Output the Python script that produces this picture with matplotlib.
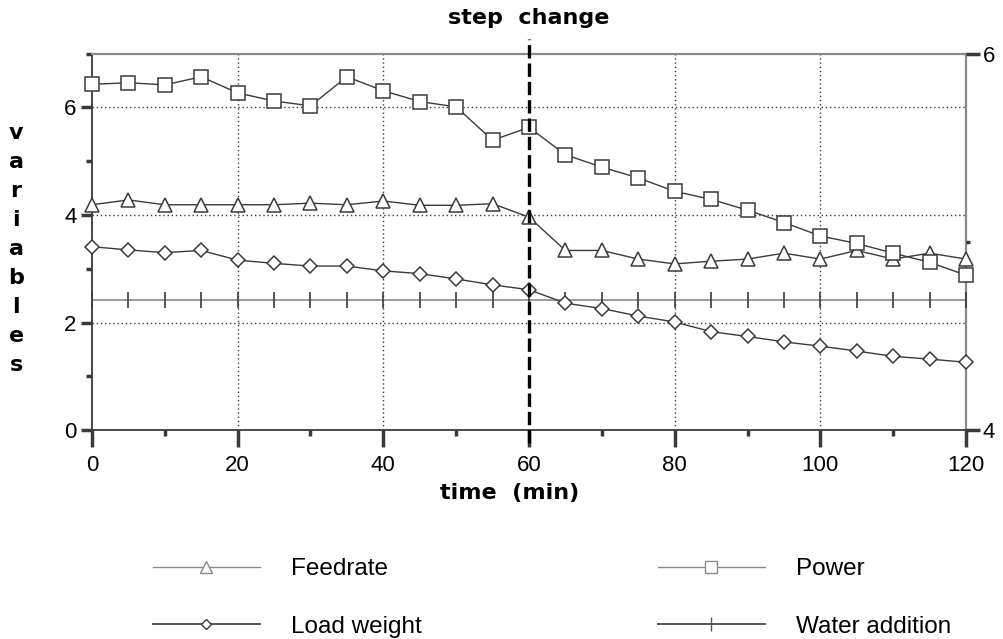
import matplotlib
matplotlib.use("Agg")
import matplotlib.pyplot as plt
from matplotlib.lines import Line2D
from matplotlib.ticker import MultipleLocator

plt.rcParams['font.family'] = ['Liberation Sans', 'DejaVu Sans']

# ============================================================================
# Du lieu doc tu hinh goc
# ============================================================================
time_min = [0, 5, 10, 15, 20, 25, 30, 35, 40, 45, 50, 55, 60,
            65, 70, 75, 80, 85, 90, 95, 100, 105, 110, 115, 120]
power = [6.43, 6.46, 6.42, 6.57, 6.27, 6.12, 6.03, 6.57, 6.31, 6.11, 6.01, 5.39, 5.63,
         5.12, 4.89, 4.69, 4.44, 4.29, 4.09, 3.86, 3.61, 3.47, 3.29, 3.12, 2.88]
feedrate = [4.19, 4.28, 4.19, 4.19, 4.19, 4.19, 4.22, 4.19, 4.26, 4.18, 4.18, 4.21, 3.96,
            3.34, 3.34, 3.18, 3.09, 3.14, 3.18, 3.29, 3.18, 3.34, 3.18, 3.29, 3.18]
load_weight = [3.41, 3.35, 3.30, 3.34, 3.16, 3.10, 3.05, 3.05, 2.96, 2.91, 2.81, 2.70, 2.61,
               2.36, 2.26, 2.12, 2.01, 1.83, 1.74, 1.64, 1.56, 1.47, 1.37, 1.32, 1.26]
water_addition = [2.42] * len(time_min)
step_time = 60

DARK = "#3a3a3a"
GREY = "#8a8a8a"
BOLD_FONT = "DejaVu Sans"

fig = plt.figure(figsize=(10.04, 6.39), dpi=100)
ax = fig.add_axes([0.0916, 0.327, 0.8706, 0.589])

# Cac duong du lieu
ax.plot(time_min, water_addition, color=GREY, lw=1.2, marker="|", ms=11,
        mew=1.2, mec=DARK, zorder=3, clip_on=False)
ax.plot(time_min, feedrate, color=DARK, lw=1.0, marker="^", ms=10,
        mfc="white", mec=DARK, mew=1.1, zorder=4, clip_on=False)
ax.plot(time_min, load_weight, color=DARK, lw=1.0, marker="D", ms=7.5,
        mfc="white", mec=DARK, mew=1.1, zorder=4, clip_on=False)
ax.plot(time_min, power, color=DARK, lw=1.0, marker="s", ms=10.5,
        mfc="white", mec=DARK, mew=1.1, zorder=4, clip_on=False)

# Duong bien doi buoc (step change)
ax.axvline(step_time, ymin=-0.035, ymax=1.04, color="black", lw=2.4,
           ls=(0, (4, 1.5)), clip_on=False, zorder=5)

ax.set_xlim(0, 120)
ax.set_ylim(0, 7)

# Luoi cham
for gx in [20, 40, 80, 100]:
    ax.axvline(gx, color=DARK, lw=1.0, ls=(0, (1, 2)), zorder=1)
for gy in [2, 4, 6]:
    ax.axhline(gy, color=DARK, lw=1.0, ls=(0, (1, 2)), zorder=1)

ax.xaxis.set_major_locator(MultipleLocator(20))
ax.xaxis.set_minor_locator(MultipleLocator(10))
ax.yaxis.set_major_locator(MultipleLocator(2))
ax.yaxis.set_minor_locator(MultipleLocator(1))
ax.tick_params(axis="x", which="major", direction="out", length=12, width=2.5,
               labelsize=16, pad=6, color=DARK)
ax.tick_params(axis="x", which="minor", direction="out", length=4, width=2.5, color=DARK)
ax.tick_params(axis="y", which="major", direction="out", length=8, width=2.5,
               labelsize=16, pad=3, color=DARK)
ax.tick_params(axis="y", which="minor", direction="out", length=4, width=2.5, color=DARK)

for side in ["left", "bottom"]:
    ax.spines[side].set_color(DARK)
    ax.spines[side].set_linewidth(1.3)
for side in ["top", "right"]:
    ax.spines[side].set_color(GREY)
    ax.spines[side].set_linewidth(1.6)

# Truc phai 4 - 6
ax2 = ax.twinx()
ax2.set_ylim(4, 6)
ax2.set_yticks([4, 6])
ax2.set_yticks([5], minor=True)
ax2.tick_params(axis="y", which="major", direction="out", length=10, width=2.5,
                labelsize=16, pad=2, color=DARK)
ax2.tick_params(axis="y", which="minor", direction="out", length=3, width=2.5, color=DARK)
for side in ["top", "right", "left", "bottom"]:
    ax2.spines[side].set_visible(False)

# Chu
fig.text(0.527, 0.972, "step  change", ha="center", va="center",
         fontsize=16, fontweight="bold", family=BOLD_FONT)
fig.text(0.508, 0.229, "time  (min)", ha="center", va="center",
         fontsize=16, fontweight="bold", family=BOLD_FONT)
letters = "variables"
y_top, y_bot = 133, 365
for i, ch in enumerate(letters):
    yp = y_top + (y_bot - y_top) * i / (len(letters) - 1)
    fig.text(0.016, 1 - yp / 639, ch, ha="center", va="center",
             fontsize=16, fontweight="bold", family=BOLD_FONT)

# Chu giai
handles = [
    Line2D([], [], color=GREY, lw=1.0, marker="^", ms=8, mfc="white", mec=GREY),
    Line2D([], [], color="#555555", lw=1.4, marker="D", ms=5.5, mfc="white", mec=DARK),
    Line2D([], [], color=GREY, lw=1.0, marker="s", ms=8, mfc="white", mec=GREY),
    Line2D([], [], color="#555555", lw=1.4, marker="|", ms=10, mec="#555555"),
]
labels = ["Feedrate", "Load weight", "Power", "Water addition"]
fig.legend(handles, labels, ncol=2, loc="center left",
           bbox_to_anchor=(0.152, 0.064), frameon=False, fontsize=17.5,
           handlelength=4.4, handletextpad=1.3, columnspacing=9.7,
           labelspacing=1.45, borderpad=0, borderaxespad=0)

fig.savefig("out.png", dpi=100)
